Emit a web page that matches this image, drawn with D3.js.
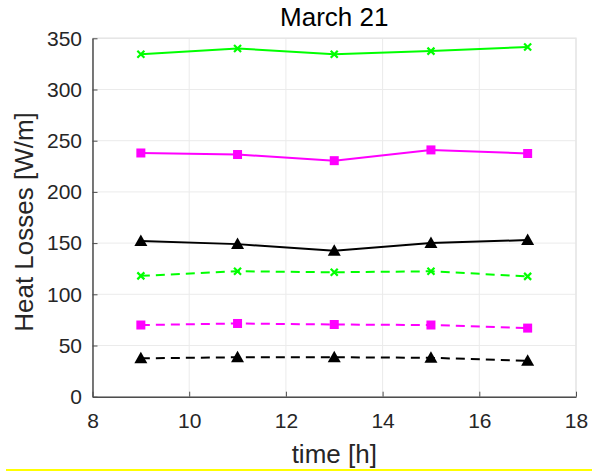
<!DOCTYPE html>
<html><head><meta charset="utf-8">
<script src="https://cdn.jsdelivr.net/npm/d3@7"></script>
<style>body{margin:0;background:#fff}svg{display:block}text{font-family:"Liberation Sans",Arial,sans-serif}</style>
</head><body><svg id="c" width="592" height="471"></svg>
<script>
const hours = [9, 11, 13, 15, 17];
const greenSolid = [334.5, 340, 334.5, 337.5, 341.5];
const magentaSolid = [238, 236.5, 230.5, 241, 237.5];
const blackSolid = [152, 149, 142.5, 150, 153];
const greenDashed = [118, 122.5, 121.5, 122.5, 117.5];
const magentaDashed = [70, 71.5, 70.5, 70, 67];
const blackDashed = [37.5, 38.5, 38.5, 38, 35];
const xTicks = [8, 10, 12, 14, 16, 18];
const yTicks = [0, 50, 100, 150, 200, 250, 300, 350];

const series = [
  {v: greenSolid, color: "#00ff00", dash: null, marker: "x"},
  {v: magentaSolid, color: "#ff00ff", dash: null, marker: "s"},
  {v: blackSolid, color: "#000000", dash: null, marker: "t"},
  {v: greenDashed, color: "#00ff00", dash: "9,6", marker: "x"},
  {v: magentaDashed, color: "#ff00ff", dash: "9,6", marker: "s"},
  {v: blackDashed, color: "#000000", dash: "9,6", marker: "t"}
];

const svg = d3.select("#c");
const L = 92.5, R = 576, T = 38.3, B = 396.7;
const x = d3.scaleLinear().domain([8, 18]).range([L, R]);
const y = d3.scaleLinear().domain([0, 350]).range([B, T]);

// grid
svg.append("g").selectAll("line").data(xTicks).join("line")
  .attr("x1", d => x(d)).attr("x2", d => x(d)).attr("y1", T).attr("y2", B)
  .attr("stroke", "#ebebeb").attr("stroke-width", 1);
svg.append("g").selectAll("line").data(yTicks).join("line")
  .attr("y1", d => y(d)).attr("y2", d => y(d)).attr("x1", L).attr("x2", R)
  .attr("stroke", "#ebebeb").attr("stroke-width", 1);
// box top/right
svg.append("path").attr("d", `M${L},${T}H${R}V${B}`).attr("fill", "none").attr("stroke", "#e6e6e6").attr("stroke-width", 1.5);

// axes
const xAxis = d3.axisBottom(x).tickValues(xTicks).tickSizeInner(-5).tickSizeOuter(0).tickPadding(16);
const gx = svg.append("g").attr("transform", `translate(0,${B})`).call(xAxis);
const yAxis = d3.axisLeft(y).tickValues(yTicks).tickSizeInner(-5).tickSizeOuter(0).tickPadding(10.5);
const gy = svg.append("g").attr("transform", `translate(${L},0)`).call(yAxis);
[gx, gy].forEach(g => {
  g.select(".domain").attr("stroke", "#4d4d4d").attr("stroke-width", 1.5);
  g.selectAll(".tick line").attr("stroke", "#4d4d4d").attr("stroke-width", 1);
  g.selectAll(".tick text").attr("fill", "#262626").style("font-size", "21px").style("font-family", "Liberation Sans, Arial, sans-serif");
});

// lines
const line = d3.line().x((d, i) => x(hours[i])).y(d => y(d));
series.forEach(s => {
  svg.append("path").datum(s.v).attr("d", line).attr("fill", "none")
    .attr("stroke", s.color).attr("stroke-width", 2)
    .attr("stroke-dasharray", s.dash);
  const g = svg.append("g");
  s.v.forEach((d, i) => {
    const cx = x(hours[i]), cy = y(d);
    if (s.marker === "x") {
      const r = 3.5;
      g.append("path").attr("d", `M${cx-r},${cy-r}L${cx+r},${cy+r}M${cx-r},${cy+r}L${cx+r},${cy-r}`)
        .attr("stroke", s.color).attr("stroke-width", 2.2).attr("fill", "none");
    } else if (s.marker === "s") {
      g.append("rect").attr("x", cx - 4.5).attr("y", cy - 4.5).attr("width", 9).attr("height", 9).attr("fill", s.color);
    } else {
      g.append("path").attr("d", `M${cx},${cy-6.5}L${cx+6.5},${cy+5}L${cx-6.5},${cy+5}Z`).attr("fill", s.color);
    }
  });
});

// texts
svg.append("text").attr("x", (L + R) / 2).attr("y", 26).attr("text-anchor", "middle")
  .attr("fill", "#000").style("font-size", "26px").text("March 21");
svg.append("text").attr("x", (L + R) / 2).attr("y", 463).attr("text-anchor", "middle")
  .attr("fill", "#262626").style("font-size", "26px").text("time [h]");
svg.append("text").attr("transform", `translate(33,222) rotate(-90)`).attr("text-anchor", "middle")
  .attr("fill", "#262626").style("font-size", "26px").text("Heat Losses [W/m]");

// yellow line at bottom
svg.append("line").attr("x1", 6).attr("x2", 592).attr("y1", 470).attr("y2", 470)
  .attr("stroke", "#ffff00").attr("stroke-width", 2);
</script></body></html>
